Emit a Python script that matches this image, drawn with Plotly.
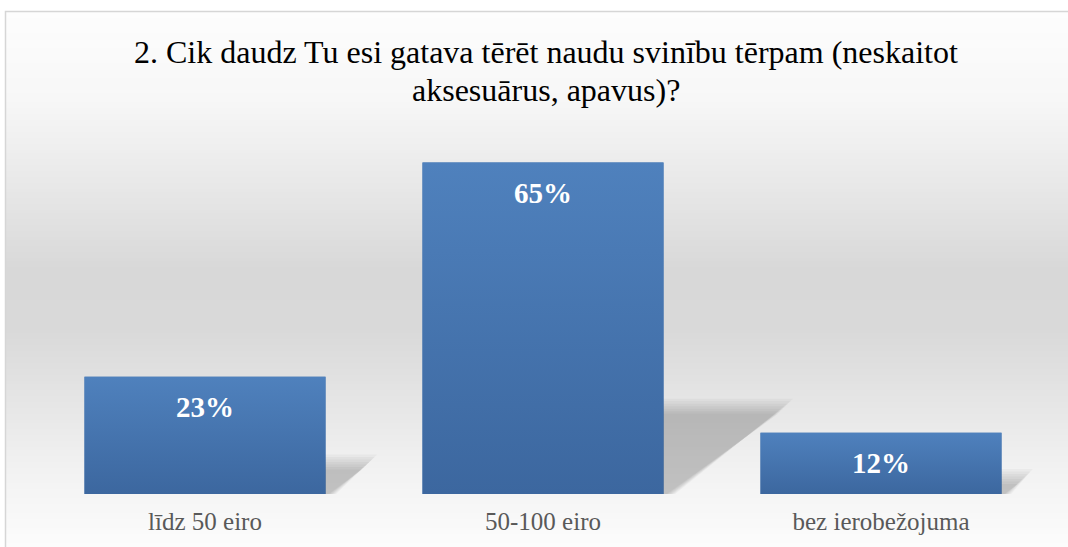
import plotly.graph_objects as go
import numpy as np

# ---- data ----
categories = ["līdz 50 eiro", "50-100 eiro", "bez ierobežojuma"]
values = [23, 65, 12]
value_labels = ["23%", "65%", "12%"]
title_lines = ["2. Cik daudz Tu esi gatava tērēt naudu svinību tērpam (neskaitot",
               "aksesuārus, apavus)?"]

# ---- layout geometry ----
W, H = 1068, 547
ML, MR, MT, MB = 36, 18, 137, 53
PW = W - ML - MR
PH = H - MT - MB
YMAX = 70
BAR_W = 0.713
PX_PER_UNIT_Y = PH / YMAX
PX_PER_CAT = PW / len(categories)
SERIF = "Liberation Serif, Times New Roman, serif"


def pxx(px):
    return (px - ML) / PW


def pxy(py):
    return (H - MB - py) / PH


fig = go.Figure()
xs = list(range(len(categories)))

# ---- background gradient (decoration) ----
stops_py = [12, 100, 180, 270, 330, 400, 470, 547]
stops_g = [253, 247, 233, 216, 217, 229, 242, 252]
shapes = []
step = 3
for py in range(12, H + step, step):
    g = int(round(np.interp(py + step / 2, stops_py, stops_g)))
    shapes.append(dict(type="rect", xref="paper", yref="paper",
                       x0=pxx(6), x1=pxx(W + 2), y0=pxy(py + step + 0.5), y1=pxy(py),
                       fillcolor=f"rgb({g},{g},{g})", line=dict(width=0), layer="below"))
# chart border
shapes.append(dict(type="rect", xref="paper", yref="paper",
                   x0=pxx(5.5), x1=pxx(W + 10), y0=pxy(H + 10), y1=pxy(11.5),
                   line=dict(color="#d6d6d6", width=1.5), fillcolor="rgba(0,0,0,0)",
                   layer="below"))

# ---- perspective shadows (derived from values) ----
for i, v in zip(xs, values):
    xr = i + BAR_W / 2
    hs = v * 0.26
    L = v * 0.0055
    for d in [9, 6.5, 4, 1.5, -1, -3.5, -6]:
        dy = d / PX_PER_UNIT_Y
        dx = d / PX_PER_CAT
        px_ = [i, i, xr + L + dx, xr + dx * 0.6, i]
        py_ = [-1, hs + dy, hs + dy, -1, -1]
        fig.add_trace(go.Scatter(x=px_, y=py_, mode="lines", fill="toself",
                                 fillcolor="rgba(0,0,0,0.031)",
                                 line=dict(width=0, color="rgba(0,0,0,0)"),
                                 hoverinfo="skip", showlegend=False))

# ---- bars ----
fig.add_trace(go.Bar(x=xs, y=values, width=BAR_W, marker=dict(color="#4574AE", line=dict(width=0)),
                     showlegend=False, hoverinfo="x+y"))
# vertical gradient overlay for each bar
for i, v in zip(xs, values):
    x0, x1 = i - BAR_W / 2, i + BAR_W / 2
    fig.add_trace(go.Scatter(x=[x0, x1, x1, x0, x0], y=[0, 0, v, v, 0], mode="lines",
                             fill="toself",
                             fillgradient=dict(type="vertical",
                                               colorscale=[[0, "#3C679F"], [1, "#4F81BD"]]),
                             line=dict(width=0, color="rgba(0,0,0,0)"),
                             hoverinfo="skip", showlegend=False))

annotations = []
for i, v, t in zip(xs, values, value_labels):
    annotations.append(dict(x=i, y=v, xref="x", yref="y", text=f"<b>{t}</b>", showarrow=False,
                            yanchor="middle", yshift=-30,
                            font=dict(family=SERIF, size=29, color="white")))

for line, py in zip(title_lines, [52, 90]):
    annotations.append(dict(x=pxx(546), y=pxy(py), xref="paper", yref="paper",
                            text=line, showarrow=False,
                            xanchor="center", yanchor="middle", align="center",
                            font=dict(family=SERIF, size=32, color="black")))

fig.update_layout(
    width=W, height=H,
    margin=dict(l=ML, r=MR, t=MT, b=MB, pad=0),
    paper_bgcolor="white", plot_bgcolor="rgba(0,0,0,0)",
    shapes=shapes, annotations=annotations,
    bargap=0.287,
    xaxis=dict(range=[-0.5, len(categories) - 0.5], tickvals=xs, ticktext=categories,
               showgrid=False, zeroline=False, showline=False, ticks="",
               tickfont=dict(family=SERIF, size=25, color="#595959"),
               ticklabelstandoff=10, fixedrange=True),
    yaxis=dict(range=[0, YMAX], visible=False, showgrid=False, zeroline=False, fixedrange=True),
)

fig.write_html("out.html", config={"displayModeBar": False},
               post_script="document.body.style.margin='0';document.body.style.overflow='hidden';")
